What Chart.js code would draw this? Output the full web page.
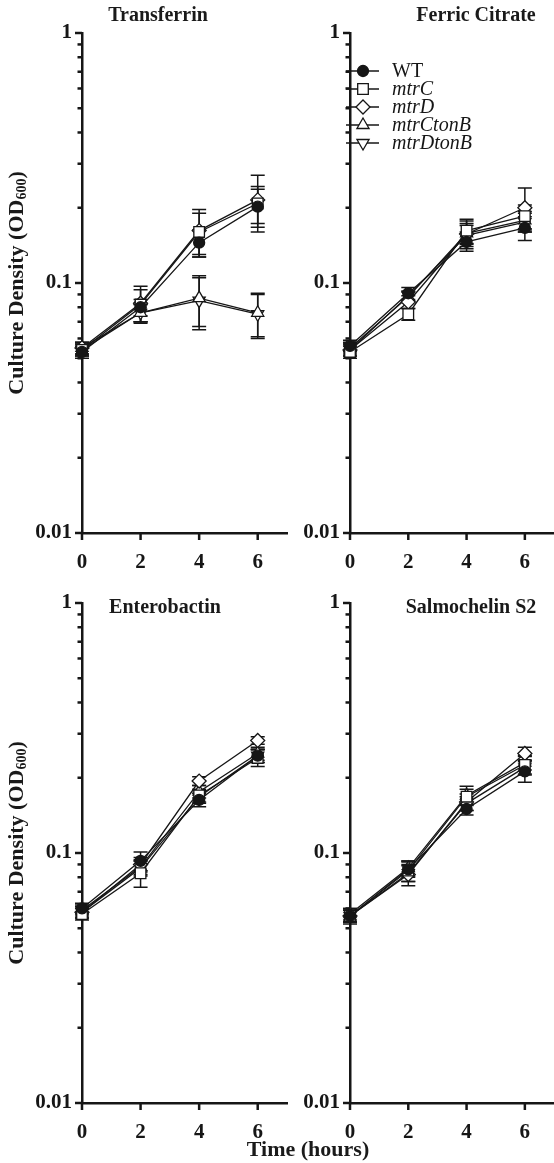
<!DOCTYPE html>
<html><head><meta charset="utf-8">
<script src="https://cdn.jsdelivr.net/npm/chart.js@4/dist/chart.umd.min.js"></script>
<style>
body{margin:0;background:#fff;width:554px;height:1163px;position:relative;overflow:hidden;font-family:"Liberation Serif","Times New Roman",serif;color:#1a1a1a}
canvas{position:absolute}
.title{position:absolute;font-weight:bold;font-size:20px;transform:translateX(-50%);white-space:nowrap;line-height:1}
.ylab{position:absolute;font-weight:bold;font-size:22px;white-space:nowrap;line-height:1;transform:translate(-50%,-50%) rotate(-90deg)}
.ylab sub{font-size:14px;vertical-align:-3px}
.xlab{position:absolute;font-weight:bold;font-size:22px;white-space:nowrap;line-height:1;transform:translateX(-50%)}
</style></head><body>
<canvas id="c1" width="292" height="575" style="left:0;top:0"></canvas>
<canvas id="c2" width="262" height="575" style="left:292px;top:0"></canvas>
<canvas id="c3" width="292" height="575" style="left:0;top:570px"></canvas>
<canvas id="c4" width="262" height="575" style="left:292px;top:570px"></canvas>
<div class="title" style="left:158px;top:4px">Transferrin</div>
<div class="title" style="left:476px;top:4px">Ferric Citrate</div>
<div class="title" style="left:165px;top:596px">Enterobactin</div>
<div class="title" style="left:471px;top:596px">Salmochelin S2</div>
<div class="ylab" style="left:17px;top:283px">Culture Density (OD<sub>600</sub>)</div>
<div class="ylab" style="left:17px;top:853px">Culture Density (OD<sub>600</sub>)</div>
<div class="xlab" style="left:308px;top:1138px">Time (hours)</div>
<script>
// ---- data ----
const times = [0, 2, 4, 6];
const xTicks = [0, 2, 4, 6];
const yTicks = [0.01,0.02,0.03,0.04,0.05,0.06,0.07,0.08,0.09,0.1,0.2,0.3,0.4,0.5,0.6,0.7,0.8,0.9,1];
const yMajor = [0.01, 0.1, 1];
const seriesNames = ['WT', 'mtrC', 'mtrD', 'mtrCtonB', 'mtrDtonB'];

// Transferrin
const tfWT  = [0.053, 0.080, 0.145, 0.202];
const tfC   = [0.054, 0.082, 0.160, 0.208];
const tfD   = [0.055, 0.083, 0.162, 0.215];
const tfCT  = [0.055, 0.076, 0.087, 0.076];
const tfDT  = [0.054, 0.076, 0.085, 0.075];
const tfWTErr = [0.003, 0.006, 0.018, 0.035];
const tfCErr  = [0.003, 0.012, 0.030, 0.035];
const tfDErr  = [0.003, 0.014, 0.035, 0.055];
const tfCTErr = [0.003, 0.006, 0.020, 0.015];
const tfDTErr = [0.003, 0.006, 0.020, 0.015];

// Ferric citrate
const fcWT  = [0.056, 0.091, 0.146, 0.166];
const fcC   = [0.053, 0.075, 0.162, 0.185];
const fcD   = [0.054, 0.084, 0.157, 0.200];
const fcCT  = [0.055, 0.088, 0.158, 0.178];
const fcDT  = [0.054, 0.089, 0.155, 0.175];
const fcWTErr = [0.003, 0.005, 0.012, 0.018];
const fcCErr  = [0.003, 0.004, 0.018, 0.020];
const fcDErr  = [0.003, 0.005, 0.020, 0.040];
const fcCTErr = [0.003, 0.004, 0.015, 0.015];
const fcDTErr = [0.003, 0.004, 0.015, 0.015];

// Enterobactin
const ebWT  = [0.060, 0.093, 0.163, 0.245];
const ebC   = [0.057, 0.083, 0.170, 0.240];
const ebD   = [0.058, 0.090, 0.194, 0.282];
const ebCT  = [0.059, 0.088, 0.176, 0.250];
const ebDT  = [0.058, 0.087, 0.168, 0.245];
const ebWTErr = [0.003, 0.008, 0.010, 0.015];
const ebCErr  = [0.003, 0.010, 0.010, 0.018];
const ebDErr  = [0.003, 0.006, 0.008, 0.010];
const ebCTErr = [0.003, 0.006, 0.010, 0.015];
const ebDTErr = [0.003, 0.006, 0.010, 0.015];

// Salmochelin S2
const smWT  = [0.056, 0.086, 0.150, 0.212];
const smC   = [0.056, 0.085, 0.168, 0.225];
const smD   = [0.056, 0.082, 0.160, 0.250];
const smCT  = [0.057, 0.087, 0.170, 0.230];
const smDT  = [0.056, 0.083, 0.158, 0.220];
const smWTErr = [0.004, 0.006, 0.008, 0.020];
const smCErr  = [0.003, 0.008, 0.012, 0.018];
const smDErr  = [0.003, 0.008, 0.012, 0.015];
const smCTErr = [0.003, 0.006, 0.015, 0.015];
const smDTErr = [0.003, 0.006, 0.010, 0.015];

// ---- styles ----
const INK = '#161616';
const styles = [
  {pointStyle:'circle',   radius:5.5, bg:INK,    rot:0},
  {pointStyle:'rect',     radius:7.5, bg:'#fff', rot:0},
  {pointStyle:'rectRot',  radius:7,   bg:'#fff', rot:0},
  {pointStyle:'triangle', radius:7,   bg:'#fff', rot:0},
  {pointStyle:'triangle', radius:7,   bg:'#fff', rot:180}
];

const panels = [
  {id:'c1', vals:[tfWT,tfC,tfD,tfCT,tfDT], errs:[tfWTErr,tfCErr,tfDErr,tfCTErr,tfDTErr], yw:82, pr:5, legend:false},
  {id:'c2', vals:[fcWT,fcC,fcD,fcCT,fcDT], errs:[fcWTErr,fcCErr,fcDErr,fcCTErr,fcDTErr], yw:58, pr:0, legend:true},
  {id:'c3', vals:[ebWT,ebC,ebD,ebCT,ebDT], errs:[ebWTErr,ebCErr,ebDErr,ebCTErr,ebDTErr], yw:82, pr:5, legend:false},
  {id:'c4', vals:[smWT,smC,smD,smCT,smDT], errs:[smWTErr,smCErr,smDErr,smCTErr,smDTErr], yw:58, pr:0, legend:false}
];

const errPlugin = {
  id:'errbars',
  beforeDatasetsDraw(chart){
    const ctx = chart.ctx, xs = chart.scales.x, ys = chart.scales.y;
    ctx.save(); ctx.strokeStyle = INK; ctx.lineWidth = 1.5;
    chart.data.datasets.forEach(ds => {
      ds.data.forEach((p, i) => {
        const e = ds.err[i]; if (!e) return;
        const x = xs.getPixelForValue(p.x);
        const y1 = ys.getPixelForValue(p.y + e), y2 = ys.getPixelForValue(p.y - e);
        ctx.beginPath();
        ctx.moveTo(x, y1); ctx.lineTo(x, y2);
        ctx.moveTo(x - 7, y1); ctx.lineTo(x + 7, y1);
        ctx.moveTo(x - 7, y2); ctx.lineTo(x + 7, y2);
        ctx.stroke();
      });
    });
    ctx.restore();
  }
};

const tickPlugin = {
  id:'tickmarks',
  afterDraw(chart){
    const ctx = chart.ctx, xs = chart.scales.x, ys = chart.scales.y, a = chart.chartArea;
    ctx.save(); ctx.strokeStyle = INK; ctx.lineWidth = 2.5;
    ys.ticks.forEach(t => {
      const y = ys.getPixelForValue(t.value);
      const len = yMajor.includes(t.value) ? 7 : 4.5;
      ctx.beginPath(); ctx.moveTo(a.left - len, y); ctx.lineTo(a.left, y); ctx.stroke();
    });
    xs.ticks.forEach(t => {
      const x = xs.getPixelForValue(t.value);
      ctx.beginPath(); ctx.moveTo(x, a.bottom); ctx.lineTo(x, a.bottom + 7); ctx.stroke();
    });
    ctx.restore();
  }
};

const legendPlugin = {
  id:'lg',
  afterDraw(chart, args, opts){
    if (!opts.show) return;
    const ctx = chart.ctx, a = chart.chartArea;
    ctx.save();
    seriesNames.forEach((name, i) => {
      const y = 71 + 18 * i, st = styles[i];
      ctx.strokeStyle = INK; ctx.lineWidth = 1.4;
      ctx.beginPath(); ctx.moveTo(a.left - 4, y); ctx.lineTo(a.left + 29, y); ctx.stroke();
      ctx.fillStyle = st.bg; ctx.lineWidth = 1.3;
      Chart.helpers.drawPoint(ctx, {pointStyle:st.pointStyle, radius:st.radius, rotation:st.rot, borderWidth:1.3}, a.left + 13, y);
      ctx.fillStyle = INK;
      ctx.font = (i === 0 ? '' : 'italic ') + '20px "Liberation Serif", serif';
      ctx.textBaseline = 'middle';
      ctx.fillText(name, a.left + 42, y + 1);
    });
    ctx.restore();
  }
};

const tickFont = {family: '"Liberation Serif", serif', size: 21, weight: 'bold'};

panels.forEach(p => {
  const datasets = p.vals.map((v, k) => ({
    label: seriesNames[k],
    data: times.map((t, i) => ({x: t, y: v[i]})),
    err: p.errs[k],
    borderColor: INK, borderWidth: 1.3,
    pointStyle: styles[k].pointStyle, pointRadius: styles[k].radius,
    pointRotation: styles[k].rot,
    pointBackgroundColor: styles[k].bg, pointBorderColor: INK, pointBorderWidth: 1.3,
    pointHoverRadius: styles[k].radius,
    tension: 0, clip: false
  }));
  new Chart(document.getElementById(p.id), {
    type: 'line',
    data: {datasets},
    options: {
      responsive: false, animation: false, events: [],
      layout: {padding: {top: 33, right: p.pr, left: 0, bottom: 0}, autoPadding: false},
      plugins: {legend: {display: false}, tooltip: {enabled: false}, lg: {show: p.legend}},
      scales: {
        x: {
          type: 'linear', min: 0, max: 7,
          afterBuildTicks: s => { s.ticks = xTicks.map(v => ({value: v})); },
          afterFit: s => { s.height = 42; },
          grid: {display: false, drawTicks: false},
          border: {display: true, color: INK, width: 2.5},
          ticks: {color: INK, padding: 17, font: tickFont, callback: v => String(v)}
        },
        y: {
          type: 'logarithmic', min: 0.01, max: 1,
          afterBuildTicks: s => { s.ticks = yTicks.map(v => ({value: v, major: yMajor.includes(v)})); },
          afterFit: s => { s.width = p.yw; },
          grid: {display: false, drawTicks: false},
          border: {display: true, color: INK, width: 2.5},
          ticks: {color: INK, padding: 10, autoSkip: false, font: tickFont,
                  callback: v => yMajor.includes(v) ? String(v) : ''}
        }
      }
    },
    plugins: [errPlugin, tickPlugin, legendPlugin]
  });
});
</script>
</body></html>
